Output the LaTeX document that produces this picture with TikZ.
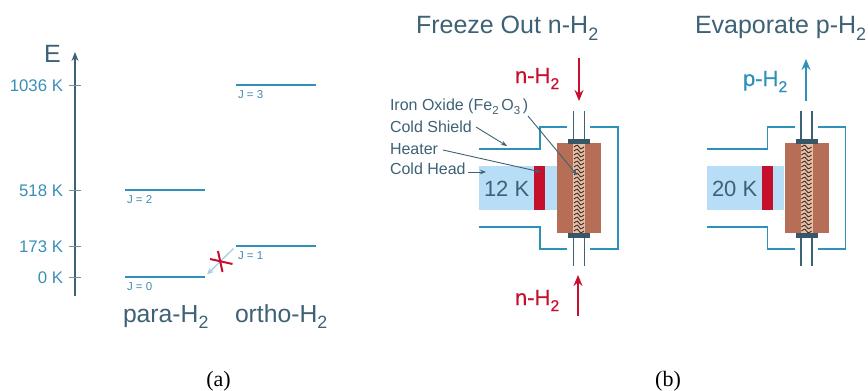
\documentclass[tikz,border=0pt]{standalone}
\usepackage{fontspec}
\setmainfont{Liberation Sans}
\newfontfamily\timesfont{Liberation Serif}
\newfontfamily\gasfont[FakeBold=0.5]{Liberation Sans}
\usetikzlibrary{arrows.meta}
\definecolor{darkslate}{HTML}{3D6175}
\definecolor{tealline}{HTML}{2F90B8}
\definecolor{labelblue}{HTML}{3A8FB7}
\definecolor{redmark}{HTML}{C60F2D}
\definecolor{brownblock}{HTML}{B66F56}
\definecolor{coilbg}{HTML}{E6BFA8}
\definecolor{coldblue}{HTML}{B7DEF6}
\definecolor{coilline}{HTML}{4A3228}
\definecolor{faintarrow}{HTML}{A9CFE6}
\newcommand{\lowr}[1]{\raisebox{-.28em}{\scalebox{.72}{#1}}}
\newcommand{\fs}[1]{\fontsize{#1}{#1}\selectfont}
\tikzset{
  txt/.style={inner sep=0pt,outer sep=0pt,anchor=base west},
  txtr/.style={inner sep=0pt,outer sep=0pt,anchor=base east},
  tempval/.style={txtr,text=labelblue,font=\fs{16.8}},
  jlabel/.style={txt,text=labelblue!85!gray,font=\fs{11.5}},
  level/.style={draw=tealline,line width=1.5pt},
  tick/.style={draw=darkslate!70,line width=.7pt},
  shield/.style={draw=tealline,line width=1.5pt},
  tube/.style={draw=darkslate,line width=1.6pt},
  capblock/.style={fill=darkslate!90!black,draw=none},
  leader/.style={draw=darkslate,line width=.9pt,-{Stealth[length=6pt,width=4.5pt]}},
  calllabel/.style={txt,text=darkslate,font=\fs{16}},
  title/.style={txt,text=darkslate,font=\fs{25}},
  flowred/.style={draw=redmark,line width=1.5pt,-{Stealth[length=11pt,width=9pt]}},
  flowblue/.style={draw=tealline,line width=1.5pt,-{Stealth[length=11pt,width=9pt]}},
  gaslabel/.style={txt,font=\gasfont\fs{22}},
  templabel/.style={txt,text=darkslate,font=\fs{22}},
  caption/.style={inner sep=0pt,anchor=base,font=\timesfont\fs{22}},
  pics/cell/.style={code={
    \fill[brownblock] (-22,143) rectangle (22,233);
    \fill[coilbg] (-6,143) rectangle (6,233);
    \foreach \yy in {147,151,...,231}{
      \draw[coilline,line width=1pt] (-5,\yy) .. controls (-2,\yy-2.4) and (-.8,\yy-2.4) .. (0,\yy) .. controls (.8,\yy+2.4) and (2,\yy+2.4) .. (5,\yy);
    }
    \draw[tube] (-5.5,111) -- (-5.5,139);
    \draw[tube] (5.5,111) -- (5.5,139);
    \draw[tube] (-5.5,238) -- (-5.5,266);
    \draw[tube] (5.5,238) -- (5.5,266);
    \fill[capblock] (-11,138.5) rectangle (11,144);
    \fill[capblock] (-11,233) rectangle (11,238);
    \draw[shield] (-100,149) -- (-39,149) -- (-39,127) -- (-12,127);
    \draw[shield] (11,127) -- (39,127) -- (39,249) -- (11,249);
    \draw[shield] (-100,227) -- (-39,227) -- (-39,249) -- (-12,249);
  }}
}
\begin{document}
\begin{tikzpicture}[x=1pt,y=-1pt]
\useasboundingbox (0,0) rectangle (868,391);
% ---------- (a)
\coordinate (axbot) at (75,296);
\coordinate (axtop) at (75,52);
\draw[draw=darkslate,line width=1.3pt,-{Stealth[length=9pt,width=7pt]}] (axbot) -- (axtop);
\node[txt,text=darkslate,font=\fs{25}] (elabel) at (44,62) {E};
\foreach \nm/\py/\val in {a/85/1036 K,b/190/518 K,c/246/173 K,d/277/0 K}{
  \coordinate (t\nm l) at (69,\py);
  \coordinate (t\nm r) at (81,\py);
  \draw[tick] (t\nm l) -- (t\nm r);
  \node[tempval] (v\nm) at (63,\py+6) {\val};
}
\foreach \nm/\xa/\xb/\py/\jj in {j0/125/205/277/0,j1/236/316/246/1,j2/125/205/190/2,j3/236/316/85/3}{
  \coordinate (\nm l) at (\xa,\py);
  \coordinate (\nm r) at (\xb,\py);
  \draw[level] (\nm l) -- (\nm r);
  \node[jlabel] (\nm t) at (\xa+2,\py+13) {J = \jj};
}
\coordinate (tra) at (233.5,248.5);
\coordinate (trb) at (207,274.5);
\draw[draw=faintarrow,line width=1.3pt,-{Stealth[length=7pt,width=6pt]}] (tra) -- (trb);
\coordinate (xa) at (210,259);
\coordinate (xb) at (232.5,264);
\coordinate (xc) at (218,251);
\coordinate (xd) at (222.5,272);
\draw[draw=redmark,line width=2pt] (xa) -- (xb);
\draw[draw=redmark,line width=2pt] (xc) -- (xd);
\node[txt,text=darkslate,font=\fs{24.7}] (para) at (123,322) {para-H\lowr{2}};
\node[txt,text=darkslate,font=\fs{24.7}] (ortho) at (235,322) {ortho-H\lowr{2}};
\node[caption] (capa) at (218.5,386) {(a)};
% ---------- (b)
\node[title] (t1) at (416,33) {Freeze Out n-H\lowr{2}};
\node[title] (t2) at (695,33) {Evaporate p-H\lowr{2}};
% left cell
\fill[coldblue] (479,166) rectangle (557,210);
\fill[redmark] (534,166) rectangle (545,210);
\pic at (579,0) {cell};
\node[templabel] (k12) at (484,196) {12 K};
\node[gaslabel,text=redmark] (n1) at (515,83) {n-H\lowr{2}};
\node[gaslabel,text=redmark] (n2) at (515,305) {n-H\lowr{2}};
\coordinate (fa) at (579,58);
\coordinate (fb) at (579,101);
\coordinate (fc) at (578,316);
\coordinate (fd) at (578,275);
\draw[flowred] (fa) -- (fb);
\draw[flowred] (fc) -- (fd);
\node[calllabel] (iron) at (390,110) {Iron Oxide (Fe\lowr{2}\,O\lowr{3}\,)};
\node[calllabel] (shieldt) at (390,132) {Cold Shield};
\node[calllabel] (heatert) at (390,154) {Heater};
\node[calllabel] (headt) at (390,174) {Cold Head};
\coordinate (la) at (528,116);
\coordinate (lb) at (577,175);
\coordinate (lc) at (476,127);
\coordinate (ld) at (507,146);
\coordinate (le) at (443,150);
\coordinate (lf) at (541,172);
\coordinate (lg) at (468,172);
\coordinate (lh) at (486,172);
\draw[leader] (la) -- (lb);
\draw[leader] (lc) -- (ld);
\draw[leader] (le) -- (lf);
\draw[leader] (lg) -- (lh);
% right cell
\fill[coldblue] (707,166) rectangle (784,210);
\fill[redmark] (762,166) rectangle (773,210);
\pic at (806.5,0) {cell};
\node[templabel] (k20) at (712,196) {20 K};
\node[gaslabel,text=tealline] (p1) at (743,86) {p-H\lowr{2}};
\coordinate (pa) at (806,101);
\coordinate (pb) at (806,59);
\draw[flowblue] (pa) -- (pb);
\node[caption] (capb) at (668,386) {(b)};
\end{tikzpicture}
\end{document}
